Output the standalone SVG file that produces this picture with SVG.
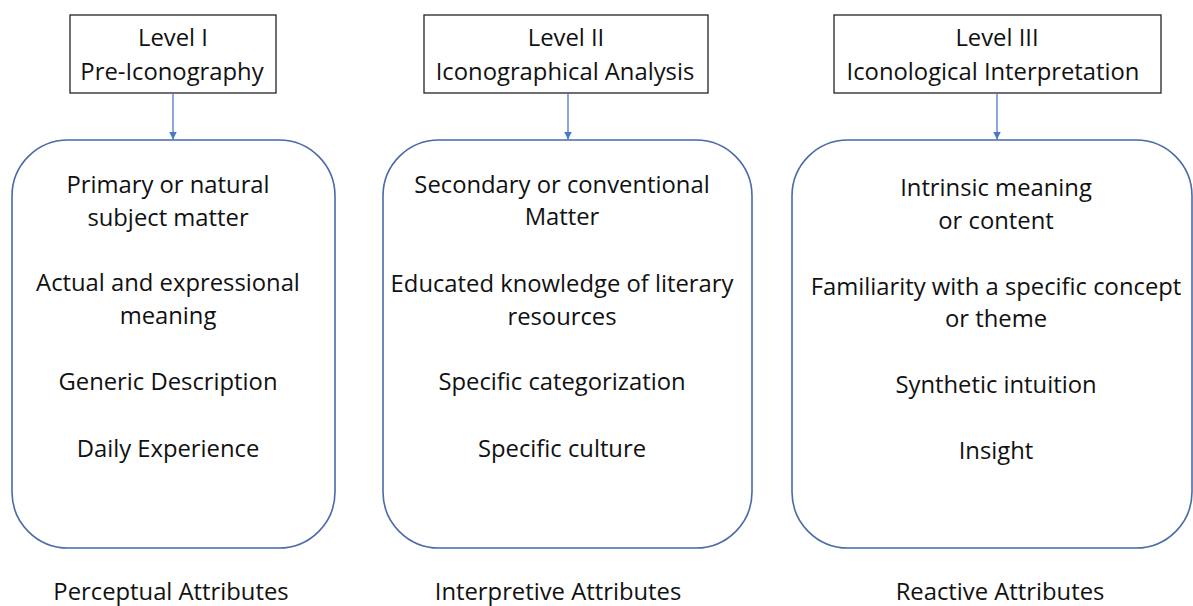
<svg xmlns="http://www.w3.org/2000/svg" width="1193" height="606" viewBox="0 0 1193 606">
<style>
text{font-family:"Open Sans",Lato,"Liberation Sans",sans-serif;font-size:23.8px;fill:#111;text-anchor:middle}
.lvl{fill:#fff;stroke:#222;stroke-width:1.3}
.rbox{fill:#fff;stroke:#4a6aa8;stroke-width:1.6}
.conn{stroke:#4a78c8;stroke-width:1.3;fill:none}
</style>
<defs>
<marker id="ah" viewBox="0 0 10 10" refX="10" refY="5" markerWidth="8" markerHeight="8" markerUnits="userSpaceOnUse" orient="auto">
<path d="M0,0 L10,5 L0,10 Z" fill="#4a78c8"/>
</marker>
</defs>
<rect width="1193" height="606" fill="#fff"/>
<g id="level1">
<rect class="lvl" x="70" y="15" width="206" height="78"/>
<text x="173" y="46">Level I</text>
<text x="172" y="80">Pre-Iconography</text>
</g>
<g id="level2">
<rect class="lvl" x="424" y="15" width="284" height="78"/>
<text x="566" y="46">Level II</text>
<text x="565" y="80">Iconographical Analysis</text>
</g>
<g id="level3">
<rect class="lvl" x="834" y="15" width="327" height="78"/>
<text x="997" y="46">Level III</text>
<text x="993" y="80">Iconological Interpretation</text>
</g>
<g id="connectors">
<line class="conn" x1="173" y1="93" x2="173" y2="139.5" marker-end="url(#ah)"/>
<line class="conn" x1="568" y1="93" x2="568" y2="139.5" marker-end="url(#ah)"/>
<line class="conn" x1="997" y1="93" x2="997" y2="139.5" marker-end="url(#ah)"/>
</g>
<g id="box1">
<rect class="rbox" x="12" y="140" width="323" height="408" rx="56" ry="56"/>
<text x="168" y="193">Primary or natural</text>
<text x="168" y="226">subject matter</text>
<text x="168" y="291">Actual and expressional</text>
<text x="168" y="324">meaning</text>
<text x="168" y="390">Generic Description</text>
<text x="168" y="457">Daily Experience</text>
</g>
<g id="box2">
<rect class="rbox" x="383" y="140" width="369" height="408" rx="56" ry="56"/>
<text x="562" y="193">Secondary or conventional</text>
<text x="562" y="225">Matter</text>
<text x="562" y="292">Educated knowledge of literary</text>
<text x="562" y="325">resources</text>
<text x="562" y="390">Specific categorization</text>
<text x="562" y="457">Specific culture</text>
</g>
<g id="box3">
<rect class="rbox" x="792" y="140" width="400" height="408" rx="56" ry="56"/>
<text x="996" y="196">Intrinsic meaning</text>
<text x="996" y="229">or content</text>
<text x="996" y="295">Familiarity with a specific concept</text>
<text x="996" y="327">or theme</text>
<text x="996" y="393">Synthetic intuition</text>
<text x="996" y="459">Insight</text>
</g>
<g id="labels">
<text x="171" y="600">Perceptual Attributes</text>
<text x="558" y="600">Interpretive Attributes</text>
<text x="1000" y="600">Reactive Attributes</text>
</g>
</svg>
